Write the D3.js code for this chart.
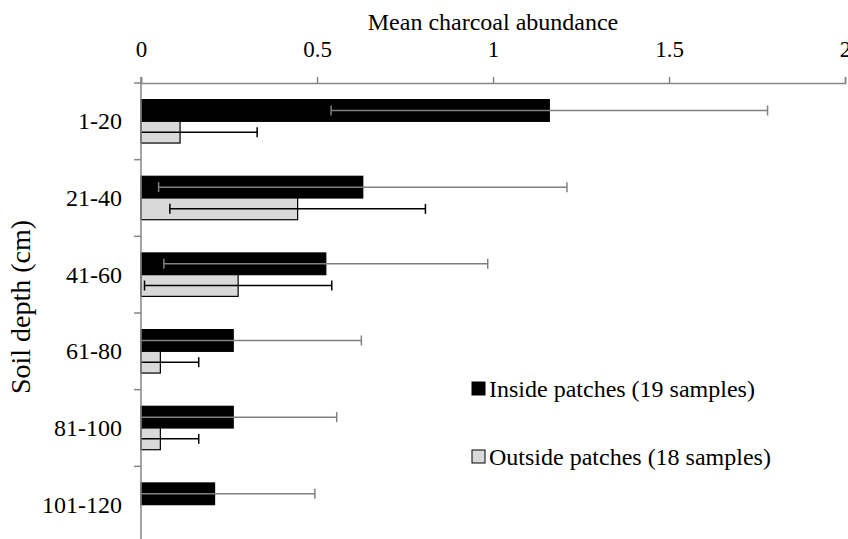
<!DOCTYPE html>
<html>
<head>
<meta charset="utf-8">
<script src="https://cdn.jsdelivr.net/npm/d3@7"></script>
<style>
  body { margin: 0; background: #fff; }
  svg text { font-family: "Liberation Serif", "Times New Roman", serif; fill: #000; }
</style>
</head>
<body>
<div class="viz"></div>
<script>
var depths = [ "1-20", "21-40", "41-60", "61-80", "81-100", "101-120" ],
    insideMean = [ 1.16, 0.63, 0.525, 0.262, 0.262, 0.209 ],
    insideErr = [ 0.62, 0.58, 0.46, 0.364, 0.294, 0.285 ],
    outsideMean = [ 0.111, 0.445, 0.276, 0.055, 0.055, 0 ],
    outsideErr = [ 0.219, 0.363, 0.266, 0.109, 0.109, 0 ],
    xTicks = [ 0, 0.5, 1, 1.5, 2 ],
    seriesNames = [ "Inside patches (19 samples)", "Outside patches (18 samples)" ];

var width = 848,
    height = 539,
    axisGrey = "#868686",
    serif = "'Liberation Serif', 'Times New Roman', serif";

var svg = d3.select( ".viz" )
    .append( "svg" )
    .attr( "width", width )
    .attr( "height", height );

var x = d3.scaleLinear().domain( [ 0, 2 ] ).range( [ 141, 845 ] );
var y = d3.scaleBand().domain( depths ).range( [ 83, 543 ] );
var sub = d3.scaleBand().domain( [ 0, 1 ] ).range( [ 0, y.bandwidth() ] ).paddingOuter( 0.765 );

var series = [
    { mean: insideMean, err: insideErr, fill: "#000", stroke: "#000", errColor: "#808080" },
    { mean: outsideMean, err: outsideErr, fill: "#d9d9d9", stroke: "#000", errColor: "#000" }
];

// bars
series.forEach( function( s, si ) {
    var rows = depths.map( function( d, i ) {
        return { depth: d, v: s.mean[ i ], e: s.err[ i ] };
    } ).filter( function( r ) { return r.v > 0; } );

    svg.selectAll( ".bar" + si )
        .data( rows )
        .enter()
        .append( "rect" )
        .attr( "x", x( 0 ) )
        .attr( "y", function( r ) { return y( r.depth ) + sub( si ); } )
        .attr( "width", function( r ) { return x( r.v ) - x( 0 ); } )
        .attr( "height", sub.bandwidth() )
        .attr( "fill", s.fill )
        .attr( "stroke", s.stroke )
        .attr( "stroke-width", 1.2 );
} );

// error bars
var capH = 10;
series.forEach( function( s, si ) {
    depths.forEach( function( d, i ) {
        if ( s.mean[ i ] <= 0 ) return;
        var cy = y( d ) + sub( si ) + sub.bandwidth() / 2,
            lo = s.mean[ i ] - s.err[ i ],
            hi = s.mean[ i ] + s.err[ i ],
            g = svg.append( "g" ).attr( "stroke", s.errColor ).attr( "stroke-width", 1.5 );
        g.append( "line" )
            .attr( "x1", x( Math.max( lo, 0 ) ) ).attr( "x2", x( hi ) )
            .attr( "y1", cy ).attr( "y2", cy );
        g.append( "line" )
            .attr( "x1", x( hi ) ).attr( "x2", x( hi ) )
            .attr( "y1", cy - capH / 2 ).attr( "y2", cy + capH / 2 );
        if ( lo >= 0 ) {
            g.append( "line" )
                .attr( "x1", x( lo ) ).attr( "x2", x( lo ) )
                .attr( "y1", cy - capH / 2 ).attr( "y2", cy + capH / 2 );
        }
    } );
} );

// top x axis
var xAxis = svg.append( "g" )
    .attr( "transform", "translate(0,83)" )
    .attr( "font-family", serif )
    .call( d3.axisTop( x ).tickValues( xTicks ).tickSize( 6 ).tickPadding( 20 )
        .tickFormat( function( d ) { return d; } ) );
xAxis.select( ".domain" ).attr( "stroke", axisGrey ).attr( "stroke-width", 1.5 );
xAxis.selectAll( ".tick line" ).attr( "stroke", axisGrey ).attr( "stroke-width", 1.5 );
xAxis.selectAll( ".tick text" ).attr( "dy", 0 ).style( "font-size", "23px" );

// left y axis with boundary ticks
var yAxis = svg.append( "g" ).attr( "class", "yaxis" );
yAxis.append( "line" )
    .attr( "x1", x( 0 ) ).attr( "x2", x( 0 ) )
    .attr( "y1", 77 ).attr( "y2", 543 )
    .attr( "stroke", axisGrey ).attr( "stroke-width", 1.5 );
yAxis.selectAll( ".btick" )
    .data( depths )
    .enter()
    .append( "line" )
    .attr( "x1", x( 0 ) - 7 ).attr( "x2", x( 0 ) )
    .attr( "y1", function( d ) { return y( d ); } )
    .attr( "y2", function( d ) { return y( d ); } )
    .attr( "stroke", axisGrey ).attr( "stroke-width", 1.5 );
yAxis.selectAll( ".depthLabel" )
    .data( depths )
    .enter()
    .append( "text" )
    .attr( "x", 122 )
    .attr( "y", function( d ) { return y( d ) + y.bandwidth() / 2 + 8; } )
    .style( "text-anchor", "end" )
    .style( "font-size", "24px" )
    .text( function( d ) { return d; } );

// axis titles
svg.append( "text" )
    .attr( "x", 493 ).attr( "y", 30 )
    .style( "text-anchor", "middle" )
    .style( "font-size", "24px" )
    .text( "Mean charcoal abundance" );

svg.append( "text" )
    .attr( "transform", "translate(30,307) rotate(-90)" )
    .style( "text-anchor", "middle" )
    .style( "font-size", "28px" )
    .text( "Soil depth (cm)" );

// legend
var legend = svg.selectAll( ".legend" )
    .data( seriesNames )
    .enter()
    .append( "g" )
    .attr( "class", "legend" )
    .attr( "transform", function( d, i ) { return "translate(472," + ( 382 + i * 68 ) + ")"; } );
legend.append( "rect" )
    .attr( "width", 13 ).attr( "height", 13 )
    .attr( "fill", function( d, i ) { return series[ i ].fill; } )
    .attr( "stroke", "#000" ).attr( "stroke-width", 1 );
legend.append( "text" )
    .attr( "x", 17 ).attr( "y", 15 )
    .style( "font-size", "24px" )
    .text( function( d ) { return d; } );
</script>
</body>
</html>
